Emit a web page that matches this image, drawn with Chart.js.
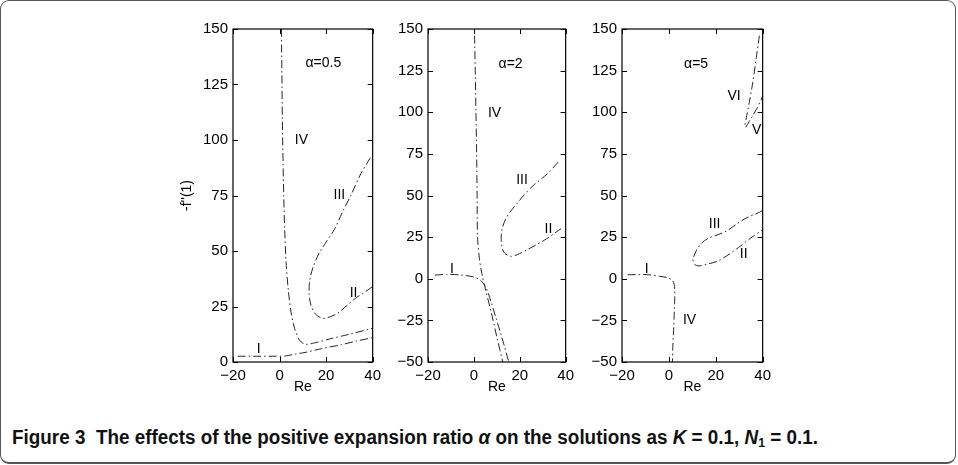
<!DOCTYPE html>
<html>
<head>
<meta charset="utf-8">
<script src="https://cdn.jsdelivr.net/npm/chart.js@4.4.0/dist/chart.umd.min.js"></script>
<style>
  html, body { margin: 0; padding: 0; background: #fff; }
  #page { position: relative; width: 958px; height: 465px; overflow: hidden; }
  #frame {
    position: absolute; left: 0; top: 0; width: 956px; height: 464px;
    box-sizing: border-box; border: 1.5px solid #555; border-bottom-width: 2.5px;
    border-radius: 9px;
  }
  canvas { position: absolute; }
  #caption {
    position: absolute; left: 12px; top: 426px; white-space: nowrap;
    font: bold 20px "Liberation Sans Narrow", "Liberation Sans", sans-serif;
    color: #111; transform-origin: 0 0;
  }
  #caption i { font-style: italic; }
</style>
</head>
<body>
<div id="page">
  <div id="frame"></div>
  <canvas id="c1"></canvas>
  <canvas id="c2"></canvas>
  <canvas id="c3"></canvas>
  <div id="caption"><span id="capText">Figure 3&nbsp;&nbsp;The effects of the positive expansion ratio <i>α</i> on the solutions as <i>K</i> = 0.1, <i>N</i><sub style="font-size:13px;vertical-align:-3px">1</sub> = 0.1.</span></div>
</div>
<script>
// axis ranges
const reMin = -20, reMax = 40, reStep = 20;
const fStep = 25;

// branches for alpha = 0.5  ([Re, -f''(1)])
const a05_I = [[-18, 2.6], [-10, 2.6], [-3, 2.6], [2.4, 2.7], [7, 3.6], [11.4, 4.4], [18, 6], [26.5, 7.8], [33, 9.4], [40, 11]];
const a05_IV = [[0.8, 150], [1, 130], [1.2, 110], [1.5, 90], [1.8, 75], [2.2, 60], [2.8, 45], [3.8, 32], [5, 22], [6.5, 15], [8.5, 10], [11, 8], [15, 8.6], [22, 10.5], [30, 12.5], [40, 15.2]];
const a05_III_II = [[39, 92], [35, 85], [30.6, 75], [27, 67.5], [23.7, 60], [20, 54], [17, 49], [14.5, 43], [13, 37], [12.7, 31], [13.5, 25.5], [15.5, 21.5], [18.8, 19.6], [22, 20.5], [25, 22], [29, 25.5], [33, 29], [36, 31], [40, 34]];
const a05_labels = [['α=0.5', 18.8, 134.4], ['IV', 9.4, 100], ['III', 25.7, 75.2], ['II', 31.8, 31.2], ['I', -9, 6]];

// branches for alpha = 2
const a2_I = [[-17, 2.2], [-12, 2.6], [-6, 2.3], [0.1, 1], [3, -1], [5.5, -6], [7.5, -14], [9.5, -23], [11.5, -32], [13.2, -40], [15.2, -50]];
const a2_IV = [[0.3, 146], [0.6, 125], [0.9, 100], [1.2, 75], [1.4, 50], [1.6, 25], [2.4, 12], [3.5, 3], [5, -6], [7.7, -21], [10, -35], [12.6, -50]];
const a2_III_II = [[36.7, 70], [32, 63], [26.3, 56.5], [22, 50.5], [19.3, 46], [16, 40.5], [13.9, 36], [12.3, 30], [11.9, 24.5], [12.2, 19.5], [13.3, 15.5], [16, 13.5], [19, 14.5], [23.4, 17.6], [28, 21], [31.7, 24], [35.8, 28], [38, 30]];
const a2_labels = [['α=2', 16, 128.6], ['IV', 9, 99.6], ['III', 21, 59.2], ['II', 32.5, 29.5], ['I', -9.6, 5.8]];

// branches for alpha = 5
const a5_I_IV = [[-17.6, 2.4], [-12, 2.5], [-8.6, 2.4], [-4, 1.5], [-0.5, 0.6], [1.5, -1], [2.3, -3.5], [2.5, -7], [2.5, -12], [2.3, -20], [2, -31], [1.7, -40], [1.5, -50]];
const a5_III_II = [[40, 41], [38.7, 40], [33, 36.5], [29, 33], [25, 29], [21, 26.5], [17, 24.4], [14, 21.5], [11.6, 16.6], [10.3, 11.5], [11, 8.6], [13, 7.7], [17, 9], [21, 10.7], [26, 15], [30.5, 19.6], [35, 24.5], [40, 29.5]];
const a5_VI = [[38.6, 146], [37.3, 133], [35.8, 118], [34.3, 106], [33.2, 98], [32.4, 92]];
const a5_V = [[32.8, 91], [34.3, 94.5], [36, 98.5], [37.6, 102.5], [39.2, 107], [40, 110]];
const a5_labels = [['α=5', 11.6, 129], ['VI', 27.8, 109.6], ['V', 37.4, 89.5], ['III', 19.5, 32.5], ['II', 31.9, 14.7], ['I', -9.5, 5.9], ['IV', 8.8, -25]];

const font = '"Liberation Sans", Arial, Helvetica, sans-serif';
const minus = v => String(v).replace('-', '\u2212');

// frame with inward ticks on all four sides
const boxTicks = {
  id: 'boxTicks',
  afterDraw(chart) {
    const { ctx, chartArea: a, scales: { x, y } } = chart;
    const len = 5;
    ctx.save();
    ctx.strokeStyle = '#000';
    ctx.lineWidth = 1.2;
    ctx.strokeRect(a.left, a.top, a.right - a.left, a.bottom - a.top);
    ctx.lineWidth = 1;
    ctx.beginPath();
    x.ticks.forEach(t => {
      const px = Math.round(x.getPixelForValue(t.value)) + 0.5;
      ctx.moveTo(px, a.bottom); ctx.lineTo(px, a.bottom - len);
      ctx.moveTo(px, a.top); ctx.lineTo(px, a.top + len);
    });
    y.ticks.forEach(t => {
      const py = Math.round(y.getPixelForValue(t.value)) + 0.5;
      ctx.moveTo(a.left, py); ctx.lineTo(a.left + len, py);
      ctx.moveTo(a.right, py); ctx.lineTo(a.right - len, py);
    });
    ctx.stroke();
    ctx.restore();
  }
};

// branch names and alpha value written inside the axes
const curveLabels = {
  id: 'curveLabels',
  afterDatasetsDraw(chart, args, opts) {
    const { ctx, scales: { x, y } } = chart;
    ctx.save();
    ctx.fillStyle = '#000';
    ctx.font = '14px ' + font;
    ctx.textAlign = 'center';
    ctx.textBaseline = 'middle';
    (opts.items || []).forEach(([text, re, f]) => {
      ctx.fillText(text, x.getPixelForValue(re), y.getPixelForValue(f));
    });
    ctx.restore();
  }
};

function branch(points) {
  return {
    data: points.map(([re, f]) => ({ x: re, y: f })),
    showLine: true,
    borderColor: '#262626',
    borderWidth: 1,
    borderDash: [8, 3, 1.5, 3],
    pointRadius: 0,
    tension: 0.3,
    fill: false
  };
}

function makePanel(id, box, yAxisW, fMin, branches, labels, yTitle) {
  const padTop = 10, padRight = 6, xAxisH = 36;
  const canvas = document.getElementById(id);
  const w = yAxisW + (box.right - box.left) + padRight;
  const h = padTop + (box.bottom - box.top) + xAxisH;
  canvas.width = w; canvas.height = h;
  canvas.style.width = w + 'px'; canvas.style.height = h + 'px';
  canvas.style.left = (box.left - yAxisW) + 'px';
  canvas.style.top = (box.top - padTop) + 'px';

  return new Chart(canvas, {
    type: 'scatter',
    data: { datasets: branches.map(branch) },
    options: {
      responsive: false,
      animation: false,
      layout: { autoPadding: false, padding: { top: padTop, right: padRight, left: 0, bottom: 0 } },
      plugins: {
        legend: { display: false },
        tooltip: { enabled: false },
        curveLabels: { items: labels }
      },
      scales: {
        x: {
          type: 'linear', min: reMin, max: reMax,
          afterFit: s => { s.height = xAxisH; },
          grid: { display: false, drawTicks: false },
          border: { display: false },
          ticks: { stepSize: reStep, padding: 5, color: '#000', font: { family: font, size: 15 }, callback: minus, maxRotation: 0 },
          title: { display: true, text: 'Re', color: '#000', font: { family: font, size: 14 }, padding: { top: 0, bottom: 2 } }
        },
        y: {
          type: 'linear', min: fMin, max: 150,
          afterFit: s => { s.width = yAxisW; },
          grid: { display: false, drawTicks: false },
          border: { display: false },
          ticks: { stepSize: fStep, padding: 5, color: '#000', font: { family: font, size: 15 }, callback: minus },
          title: { display: !!yTitle, text: yTitle || '', color: '#000', font: { family: font, size: 14 }, padding: { top: 8, bottom: 0 } }
        }
      }
    },
    plugins: [boxTicks, curveLabels]
  });
}

makePanel('c1', { left: 233, right: 380, top: 25, bottom: 362 }, 62, 0,
  [a05_I, a05_IV, a05_III_II], a05_labels, "-f''(1)");
makePanel('c2', { left: 428, right: 573, top: 25, bottom: 362 }, 44, -50,
  [a2_I, a2_IV, a2_III_II], a2_labels);
makePanel('c3', { left: 622, right: 770, top: 25, bottom: 362 }, 44, -50,
  [a5_I_IV, a5_III_II, a5_VI, a5_V], a5_labels);

// squeeze the caption to its printed width
const cap = document.getElementById('capText');
const capW = cap.getBoundingClientRect().width;
document.getElementById('caption').style.transform = 'scaleX(' + (806 / capW) + ')';
</script>
</body>
</html>
